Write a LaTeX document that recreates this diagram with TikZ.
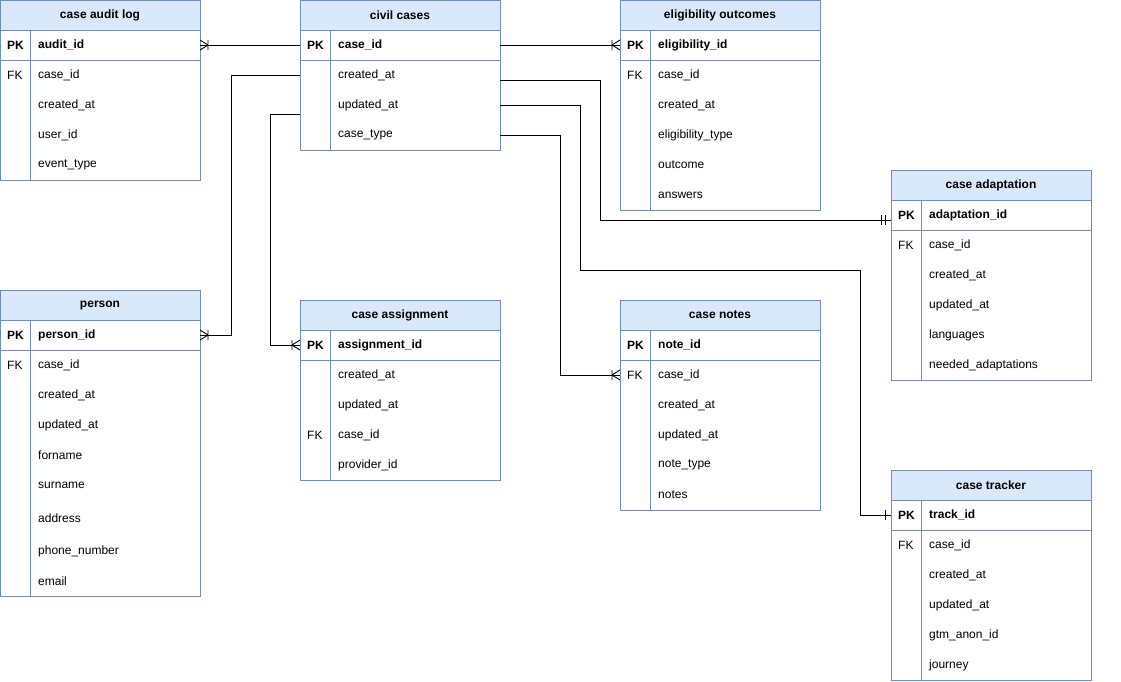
\documentclass[tikz,border=0pt]{standalone}
\usepackage{fontspec}
\setmainfont{Liberation Sans}
\begin{document}
\begin{tikzpicture}[x=1pt,y=-1pt,
  ent/.style={draw=entb,line width=0.9pt},
  ttl/.style={font=\fontsize{12}{14}\selectfont\bfseries},
  fld/.style={anchor=west,inner sep=0pt,font=\fontsize{12}{14}\selectfont},
  key/.style={anchor=west,inner sep=0pt,font=\fontsize{12}{14}\selectfont},
  con/.style={draw=black,line width=0.9pt},
  mk/.style={draw=black,line width=0.9pt}]
\definecolor{hdr}{HTML}{DAE8FC}
\definecolor{entb}{HTML}{6C8EBF}
\useasboundingbox (0,0) rectangle (1121,681);
\newcommand\etab[5]{%
 \draw[ent,fill=hdr] (#1,#2) rectangle (#1+200,#2+30);
 \node[ttl] (#5) at (#1+100,#2+15) {#4};
 \draw[ent] (#1,#2+30) rectangle (#1+200,#3);
 \draw[ent] (#1,#2+60) -- (#1+200,#2+60);
 \draw[ent] (#1+30,#2+30) -- (#1+30,#3);}
\newcommand\pkrow[3]{\node[key,font=\fontsize{12}{14}\selectfont\bfseries] at (#1+7,#2) {PK};
 \node[fld,font=\fontsize{12}{14}\selectfont\bfseries] at (#1+38,#2) {#3};}
\newcommand\frow[4]{\node[key] at (#1+7,#2) {#3}; \node[fld] at (#1+38,#2) {#4};}
\newcommand\crow[2]{\draw[mk,shift={(#1)},xscale=#2] (-8,0)--(0,-5) (-8,0)--(0,5) (-8,-5)--(-8,5);}
\newcommand\mone[2]{\draw[mk,shift={(#1)},xscale=#2] (-6,-5)--(-6,5) (-10,-5)--(-10,5);}
\newcommand\one[2]{\draw[mk,shift={(#1)},xscale=#2] (-6,-5)--(-6,5);}
% case audit log
\etab{0}{0}{180}{case audit log}{audit}
\pkrow{0}{45}{audit\_id}
\frow{0}{75}{FK}{case\_id}\frow{0}{105}{}{created\_at}\frow{0}{135}{}{user\_id}\frow{0}{165}{}{event\_type}
% civil cases
\etab{300}{0}{150}{civil cases}{civil}
\pkrow{300}{45}{case\_id}
\frow{300}{75}{}{created\_at}\frow{300}{105}{}{updated\_at}\frow{300}{135}{}{case\_type}
% eligibility
\etab{620}{0}{210}{eligibility outcomes}{elig}
\pkrow{620}{45}{eligibility\_id}
\frow{620}{75}{FK}{case\_id}\frow{620}{105}{}{created\_at}\frow{620}{135}{}{eligibility\_type}\frow{620}{165}{}{outcome}\frow{620}{195}{}{answers}
% adaptation
\etab{891}{170}{380}{case adaptation}{adapt}
\pkrow{891}{215}{adaptation\_id}
\frow{891}{245}{FK}{case\_id}\frow{891}{275}{}{created\_at}\frow{891}{305}{}{updated\_at}\frow{891}{335}{}{languages}\frow{891}{365}{}{needed\_adaptations}
% person
\etab{0}{290}{596}{person}{person}
\pkrow{0}{335}{person\_id}
\frow{0}{365}{FK}{case\_id}\frow{0}{395}{}{created\_at}\frow{0}{425}{}{updated\_at}\frow{0}{455}{}{forname}\frow{0}{485}{}{surname}\frow{0}{518}{}{address}\frow{0}{551}{}{phone\_number}\frow{0}{581}{}{email}
% assignment
\etab{300}{300}{480}{case assignment}{assign}
\pkrow{300}{345}{assignment\_id}
\frow{300}{375}{}{created\_at}\frow{300}{405}{}{updated\_at}\frow{300}{435}{FK}{case\_id}\frow{300}{465}{}{provider\_id}
% notes
\etab{620}{300}{510}{case notes}{notes}
\pkrow{620}{345}{note\_id}
\frow{620}{375}{FK}{case\_id}\frow{620}{405}{}{created\_at}\frow{620}{435}{}{updated\_at}\frow{620}{465}{}{note\_type}\frow{620}{495}{}{notes}
% tracker
\etab{891}{470}{680}{case tracker}{track}
\pkrow{891}{515}{track\_id}
\frow{891}{545}{FK}{case\_id}\frow{891}{575}{}{created\_at}\frow{891}{605}{}{updated\_at}\frow{891}{635}{}{gtm\_anon\_id}\frow{891}{665}{}{journey}
% connector end points
\coordinate (ccpkW) at (300,45); \coordinate (ccpkE) at (500,45);
\coordinate (ccc) at (300,75); \coordinate (ccu) at (300,114);
\coordinate (ccr1) at (500,80); \coordinate (ccr2) at (500,105); \coordinate (ccr3) at (500,135);
\coordinate (auE) at (200,45); \coordinate (elW) at (620,45);
\coordinate (peE) at (200,335); \coordinate (asW) at (300,345);
\coordinate (adW) at (891,220); \coordinate (trW) at (891,515); \coordinate (noW) at (620,375);
\draw[con] (ccpkW) -- (auE);
\draw[con] (ccpkE) -- (elW);
\draw[con] (ccc) -| (231,335) -- (peE);
\draw[con] (ccu) -| (270,345) -- (asW);
\draw[con] (ccr1) -| (600,220) -- (adW);
\draw[con] (ccr2) -| (580,270) -| (860,515) -- (trW);
\draw[con] (ccr3) -| (560,375) -- (noW);
\crow{auE}{-1}\crow{elW}{1}\crow{peE}{-1}\crow{asW}{1}\crow{noW}{1}
\mone{adW}{1}\one{trW}{1}
\end{tikzpicture}
\end{document}
